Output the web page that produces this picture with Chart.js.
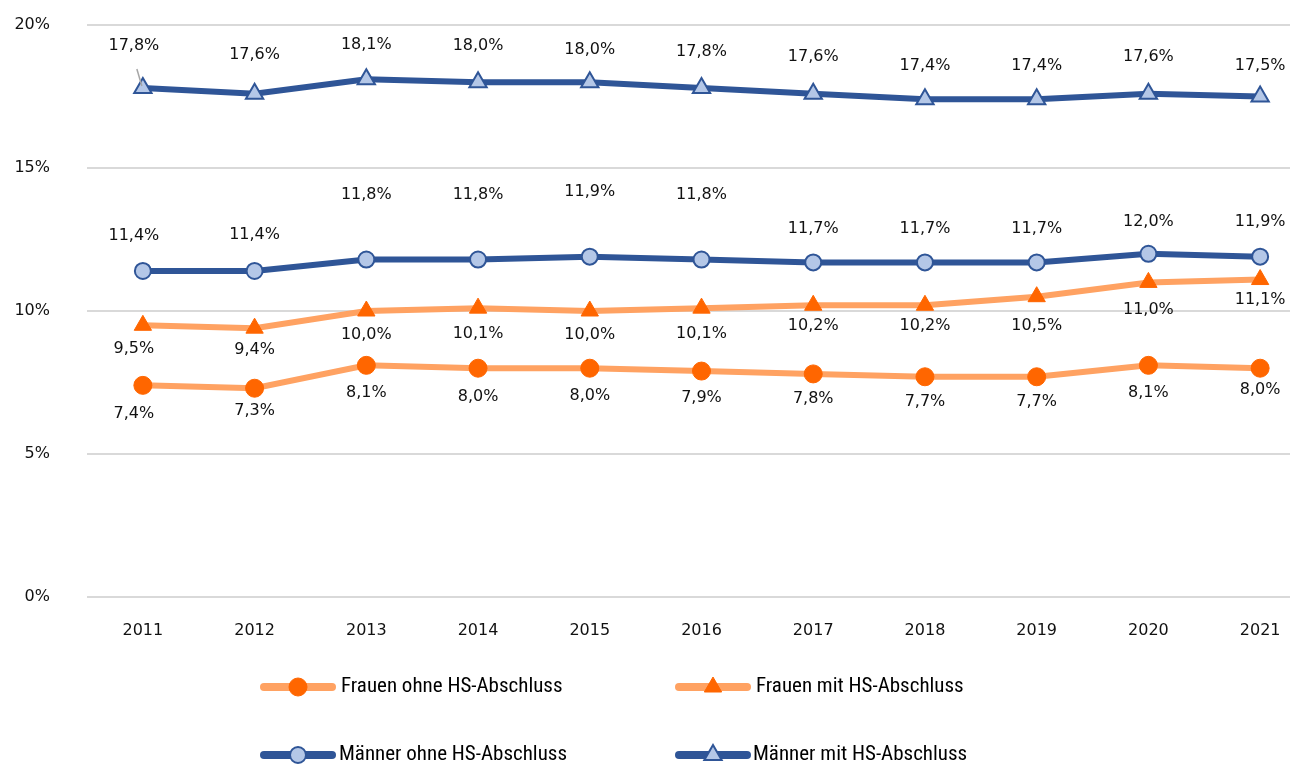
<!DOCTYPE html>
<html><head><meta charset="utf-8">
<script src="https://cdn.jsdelivr.net/npm/chart.js@4"></script>
<style>
html,body{margin:0;padding:0;background:#fff;overflow:hidden;width:1290px;height:765px;}
#wrap{position:absolute;left:0;top:0;width:1328px;height:765px;}
</style></head>
<body><div id="wrap"><canvas id="c" width="1328" height="765"></canvas></div>
<script>
const years = ['2011','2012','2013','2014','2015','2016','2017','2018','2019','2020','2021'];
const frauenOhne = [7.4,7.3,8.1,8.0,8.0,7.9,7.8,7.7,7.7,8.1,8.0];
const frauenMit  = [9.5,9.4,10.0,10.1,10.0,10.1,10.2,10.2,10.5,11.0,11.1];
const maennerOhne= [11.4,11.4,11.8,11.8,11.9,11.8,11.7,11.7,11.7,12.0,11.9];
const maennerMit = [17.8,17.6,18.1,18.0,18.0,17.8,17.6,17.4,17.4,17.6,17.5];
const yTicks = [0,5,10,15,20];
const seriesNames = ['Frauen ohne HS-Abschluss','Frauen mit HS-Abschluss','Männer ohne HS-Abschluss','Männer mit HS-Abschluss'];

// label placement (pixel offsets from point)
const labelDy = [
  [28,23,28,29,28,27,25,25,25,28,22],
  [24,22,24,26,24,26,21,21,29,27,20],
  [-35,-36,-65,-65,-65,-65,-34,-34,-34,-32,-35],
  [-42,-39,-34,-36,-32,-36,-37,-34,-34,-37,-31]
];
const labelDx = [-9,0,0,0,0,0,0,0,0,0,0];

const ORANGE_LINE = '#FFA262', ORANGE = '#FF6600', BLUE = '#2F5597', LBLUE = '#B4C7E7';
const FONT = '"DejaVu Sans", Verdana, sans-serif';

function fmt(v){ return v.toFixed(1).replace('.',',') + '%'; }

const labelPlugin = {
  id:'labels',
  afterDatasetsDraw(chart){
    const ctx = chart.ctx;
    ctx.save();
    ctx.font = '16px ' + FONT;
    ctx.fillStyle = '#111';
    ctx.textAlign = 'center';
    ctx.textBaseline = 'middle';
    chart.data.datasets.forEach((ds, di) => {
      const meta = chart.getDatasetMeta(di);
      meta.data.forEach((pt, i) => {
        ctx.fillText(fmt(ds.data[i]), pt.x + labelDx[i], pt.y + labelDy[di][i]);
      });
    });
    const p = chart.getDatasetMeta(3).data[0];
    ctx.strokeStyle = '#a6a6a6'; ctx.lineWidth = 1.5;
    ctx.beginPath(); ctx.moveTo(p.x - 6, p.y - 19); ctx.lineTo(p.x - 1, p.y - 2); ctx.stroke();
    ctx.restore();
  }
};

const legendPlugin = {
  id:'customLegend',
  afterDraw(chart){
    const ctx = chart.ctx;
    const pos = [
      {x1:264,x2:332,m:298,t:341,y:687},
      {x1:679,x2:747,m:713,t:756,y:687},
      {x1:264,x2:332,m:298,t:339,y:755},
      {x1:679,x2:747,m:713,t:753,y:755}
    ];
    chart.data.datasets.forEach((ds, di) => {
      const p = pos[di];
      ctx.save();
      ctx.strokeStyle = ds.borderColor; ctx.lineWidth = 8; ctx.lineCap = 'round';
      ctx.beginPath(); ctx.moveTo(p.x1, p.y); ctx.lineTo(p.x2, p.y); ctx.stroke();
      ctx.restore();
      ctx.save();
      ctx.fillStyle = ds.pointBackgroundColor; ctx.strokeStyle = ds.pointBorderColor;
      ctx.lineWidth = ds.pointBorderWidth;
      Chart.helpers.drawPoint(ctx, {pointStyle: ds.pointStyle, radius: ds.pointRadius, rotation:0, borderWidth: ds.pointBorderWidth}, p.m, p.y);
      ctx.restore();
      ctx.save();
      ctx.font = '21px "Liberation Sans Narrow", "Roboto Condensed", sans-serif';
      ctx.fillStyle = '#000'; ctx.textAlign='left'; ctx.textBaseline='middle';
      ctx.fillText(ds.label, p.t, p.y);
      ctx.restore();
    });
  }
};

function mk(label, data, line, style, bg, border, bw, r){
  return {label, data, borderColor: line, borderWidth: 6, pointStyle: style,
    pointBackgroundColor: bg, pointBorderColor: border, pointBorderWidth: bw,
    pointRadius: r, pointHoverRadius: r, tension: 0, fill:false};
}

new Chart(document.getElementById('c'), {
  type:'line',
  data:{
    labels: years,
    datasets:[
      mk(seriesNames[0], frauenOhne, ORANGE_LINE, 'circle', ORANGE, ORANGE, 1, 9),
      mk(seriesNames[1], frauenMit, ORANGE_LINE, 'triangle', ORANGE, ORANGE, 1, 10),
      mk(seriesNames[2], maennerOhne, BLUE, 'circle', LBLUE, BLUE, 2, 8),
      mk(seriesNames[3], maennerMit, BLUE, 'triangle', LBLUE, BLUE, 2, 10)
    ]
  },
  options:{
    responsive:false, animation:false,
    layout:{padding:{top:25,left:0,right:4,bottom:0}},
    plugins:{legend:{display:false}, tooltip:{enabled:false}},
    scales:{
      x:{
        offset:true,
        grid:{display:false, drawTicks:false},
        border:{display:false},
        ticks:{font:{family:FONT,size:16}, color:'#111', padding:24},
        afterFit(s){ s.height = 168; s.paddingLeft = 0; s.paddingRight = 0; }
      },
      y:{
        min:0, max:20,
        afterBuildTicks(s){ s.ticks = yTicks.map(v=>({value:v})); },
        grid:{color:'#d9d9d9', lineWidth:2, drawTicks:false},
        border:{display:false},
        ticks:{font:{family:FONT,size:16}, color:'#111', padding:37, callback:v=>v+'%'},
        afterFit(s){ s.width = 87; s.paddingTop = 0; s.paddingBottom = 0; }
      }
    }
  },
  plugins:[labelPlugin, legendPlugin]
});
</script></body></html>
